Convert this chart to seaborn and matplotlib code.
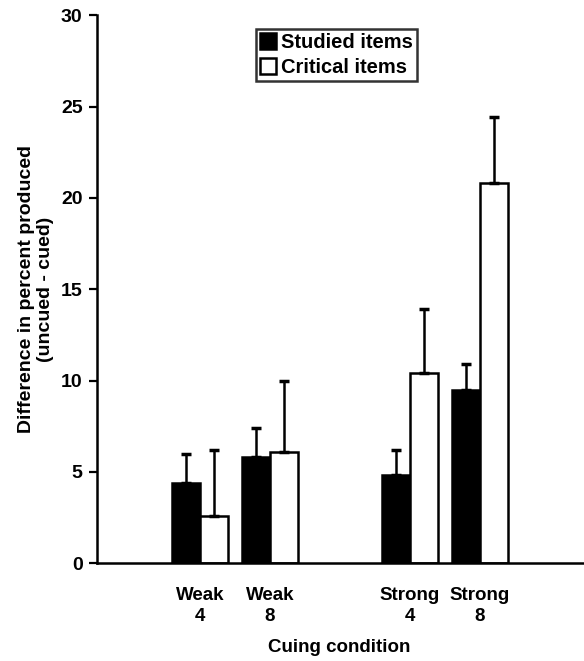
import numpy as np
import pandas as pd
import matplotlib
matplotlib.use("Agg")
import matplotlib.pyplot as plt
import seaborn as sns

# Datos
posiciones = [0, 1, 3, 4]
condiciones = ["Weak\n4", "Weak\n8", "Strong\n4", "Strong\n8"]
studied = [4.4, 5.8, 4.8, 9.5]
studied_err = [1.6, 1.6, 1.4, 1.4]
critical = [2.6, 6.1, 10.4, 20.8]
critical_err = [3.6, 3.9, 3.5, 3.6]

df = pd.DataFrame({
    "pos": posiciones * 2,
    "valor": studied + critical,
    "tipo": ["Studied items"] * 4 + ["Critical items"] * 4,
})

sns.set_style("ticks", {"axes.edgecolor": "black", "text.color": "black",
                        "axes.labelcolor": "black", "xtick.color": "black",
                        "ytick.color": "black"})
plt.rcParams["font.family"] = ["Liberation Sans", "DejaVu Sans"]

fig = plt.figure(figsize=(5.84, 6.61), dpi=100)
ax = fig.add_axes([0.166, 0.148, 0.832, 0.829])

sns.barplot(data=df, x="pos", y="valor", hue="tipo", native_scale=True,
            palette=["black", "white"], edgecolor="black", linewidth=1.8,
            width=0.8, errorbar=None, legend=False, ax=ax)

# Barras de error (solo hacia arriba)
for cont, err in zip(ax.containers, [studied_err, critical_err]):
    xs = [b.get_x() + b.get_width() / 2 for b in cont]
    hs = [b.get_height() for b in cont]
    ax.errorbar(xs, hs, yerr=[np.zeros(len(err)), err], fmt="none",
                ecolor="black", elinewidth=1.8, capsize=3.3, capthick=2.5, zorder=1)

ax.set_xlim(-1.47, 5.47)
ax.set_ylim(0, 30)
ax.set_yticks([0, 5, 10, 15, 20, 25, 30])
ax.set_xticks(posiciones)
ax.set_xticklabels(condiciones, fontsize=13.5, fontweight="bold", linespacing=1.3)
ax.tick_params(axis="x", length=0, pad=17)
ax.tick_params(axis="y", length=5.8, width=1.6, direction="out", pad=4.5)
for lab in ax.get_yticklabels():
    lab.set_fontsize(14)
    lab.set_fontweight("bold")

for s in ["top", "right"]:
    ax.spines[s].set_visible(False)
ax.spines["left"].set_linewidth(1.8)
ax.spines["bottom"].set_linewidth(1.8)

ax.set_xlabel("Cuing condition", fontsize=13.5, fontweight="bold")
ax.xaxis.set_label_coords(0.498, -0.139)
ax.set_ylabel("Difference in percent produced\n(uncued - cued)", fontsize=14,
              fontweight="bold", linespacing=1.15, labelpad=5)

leg = ax.legend(handles=[ax.containers[0][0], ax.containers[1][0]],
                labels=["Studied items", "Critical items"],
                loc="upper left", bbox_to_anchor=(0.327, 0.975),
                frameon=True, fancybox=False, edgecolor="black",
                handlelength=0.8, handleheight=0.8, handletextpad=0.27,
                borderpad=0.2, labelspacing=0.3, borderaxespad=0,
                prop={"weight": "bold", "size": 14.5})
leg.get_frame().set_linewidth(1.8)

fig.savefig("out.png", dpi=100)
